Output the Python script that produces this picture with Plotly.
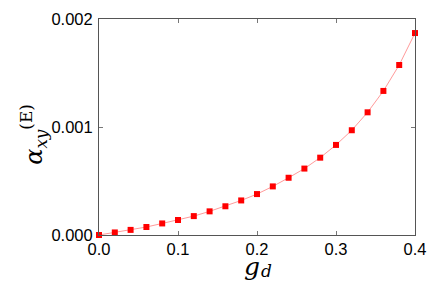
import plotly.graph_objects as go

g_d = [0.00, 0.02, 0.04, 0.06, 0.08, 0.10, 0.12, 0.14, 0.16, 0.18, 0.20,
       0.22, 0.24, 0.26, 0.28, 0.30, 0.32, 0.34, 0.36, 0.38, 0.40]
alpha_xy = [0.0, 0.0000237, 0.0000473, 0.000074, 0.000107, 0.000139, 0.000175,
            0.000219, 0.000266, 0.000320, 0.000379, 0.000450, 0.000530,
            0.000615, 0.000716, 0.000834, 0.000970, 0.001136, 0.001334,
            0.001574, 0.00187]
x_ticks = [0.0, 0.1, 0.2, 0.3, 0.4]
y_ticks = [0.000, 0.001, 0.002]

fig = go.Figure()
fig.add_trace(go.Scatter(
    x=g_d, y=alpha_xy, mode="lines",
    line=dict(color="#ff9a9a", width=1),
    showlegend=False, hoverinfo="skip", cliponaxis=False))
fig.add_trace(go.Scatter(
    x=g_d, y=alpha_xy, mode="markers",
    marker=dict(symbol="square", size=6, color="#ff0000"),
    showlegend=False, cliponaxis=False))

axis_common = dict(
    showline=True, linecolor="#555555", linewidth=1, mirror="ticks",
    ticks="inside", ticklen=4, tickcolor="#777777", showgrid=False,
    zeroline=False, tickfont=dict(family="Liberation Sans, Arial", size=16.5, color="black"),
)

fig.update_xaxes(range=[0, 0.4], tickvals=x_ticks, tickformat=".1f",
                 ticklabelstandoff=-1, **axis_common)
fig.update_yaxes(range=[0, 0.002], tickvals=y_ticks, tickformat=".3f",
                 ticklabelstandoff=2, **axis_common)

# x-axis title g_d (main letter and subscript as separate texts)
fig.add_annotation(
    text="<i>g</i>", xref="paper", yref="paper",
    x=0.4845, y=-0.2178, xanchor="center", yanchor="bottom", showarrow=False,
    borderpad=0, font=dict(family="DejaVu Serif, serif", size=25, color="black"))
fig.add_annotation(
    text="<i>d</i>", xref="paper", yref="paper",
    x=0.529, y=-0.2178, xanchor="center", yanchor="bottom", showarrow=False,
    borderpad=0, font=dict(family="DejaVu Serif, serif", size=17, color="black"))
fig.add_annotation(
    text="<i>α</i><sub><i>xy</i></sub><sup>(E)</sup>", xref="paper", yref="paper",
    x=-0.208, y=0.465, xanchor="center", yanchor="middle", showarrow=False,
    textangle=-90,
    font=dict(family="DejaVu Serif, serif", size=24, color="black"))

fig.update_layout(
    width=436, height=284,
    margin=dict(l=99, r=15, t=10, b=49),
    paper_bgcolor="white", plot_bgcolor="white",
)

fig.write_html("out.html", config={"displayModeBar": False},
               post_script="document.body.style.margin='0';document.body.style.padding='0';document.body.style.overflow='hidden';")
